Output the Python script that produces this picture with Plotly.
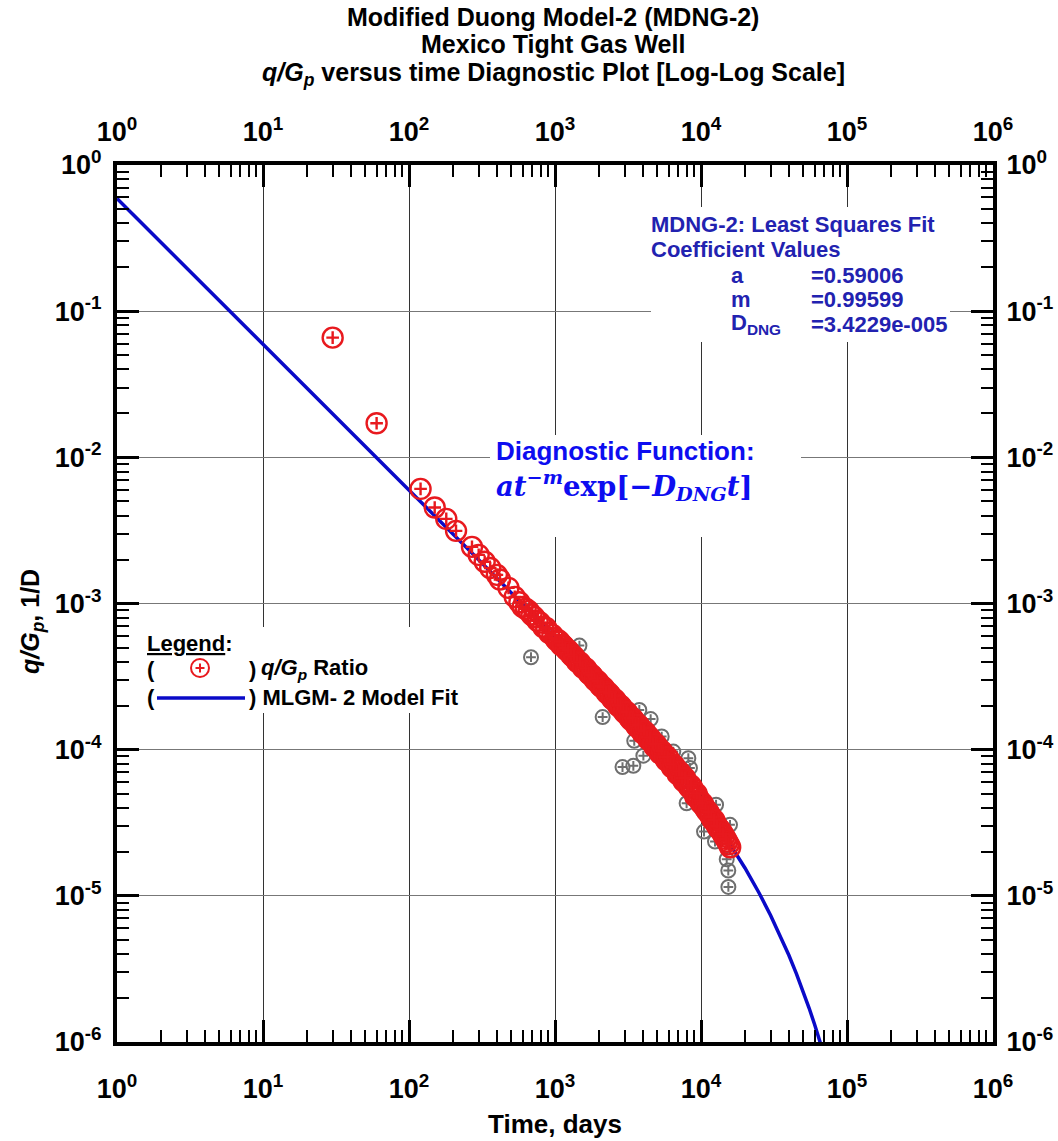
import plotly.graph_objects as go

# ---------------- data ----------------
t_red = [30, 60, 120, 150, 180, 210, 270, 300, 330, 360, 400, 420, 480, 530, 570, 600,
         630, 660, 690, 720, 760, 790, 830, 870, 910, 960,
         1000, 1050, 1100, 1150, 1200, 1260, 1320, 1380, 1450, 1510,
         1590, 1660, 1740, 1820, 1900, 2000, 2090, 2190, 2290, 2400,
         2510, 2630, 2750, 2880, 3020, 3160, 3310, 3470, 3630, 3800,
         3980, 4170, 4370, 4570, 4790, 5010, 5250, 5500, 5750, 6030,
         6310, 6610, 6920, 7240, 7590, 7940, 8320, 8710, 9120, 9550,
         10000, 10470, 10970, 11480, 12020, 12590, 13180, 13800, 14450, 15140, 15850,
         1025, 1075, 1125, 1175, 1230, 1290, 1350, 1415, 1480, 1550,
         1625, 1700, 1780, 1860, 1950, 2045, 2140, 2240, 2345, 2455,
         2570, 2690, 2815, 2950, 3090, 3235, 3390, 3550, 3715, 3890,
         4075, 4270, 4470, 4680, 4900, 5130, 5375, 5625, 5890, 6170,
         6460, 6765, 7080, 7415, 7765, 8130, 8515, 8915, 9335, 9775,
         10235, 10720, 11225, 11750, 12305, 12885, 13490, 14125, 14795, 15500]
q_red = [0.0659, 0.0171, 0.00608, 0.00454, 0.00379, 0.00314, 0.00244, 0.00215, 0.00193, 0.00175,
         0.00157, 0.00146, 0.00128, 0.00111, 0.00102, 0.000948,
         9.2e-4, 8.9e-4, 8.4e-4, 8.1e-4, 7.6e-4, 7.4e-4, 6.9e-4, 6.8e-4, 6.3e-4, 6.1e-4,
         5.8e-4, 5.6e-4, 5.2e-4, 5.1e-4, 4.8e-4, 4.65e-4, 4.35e-4, 4.2e-4, 3.95e-4, 3.83e-4,
         3.6e-4, 3.48e-4, 3.27e-4, 3.16e-4, 2.96e-4, 2.86e-4, 2.68e-4, 2.6e-4, 2.42e-4, 2.36e-4,
         2.19e-4, 2.14e-4, 1.97e-4, 1.94e-4, 1.78e-4, 1.76e-4, 1.6e-4, 1.59e-4, 1.44e-4, 1.44e-4,
         1.30e-4, 1.31e-4, 1.17e-4, 1.17e-4, 1.05e-4, 1.06e-4, 9.4e-5, 9.5e-5, 8.5e-5, 8.6e-5,
         7.6e-5, 7.7e-5, 6.8e-5, 6.9e-5, 6.1e-5, 6.1e-5, 5.5e-5, 5.5e-5, 4.8e-5, 4.7e-5,
         4.3e-5, 4.1e-5, 3.8e-5, 3.6e-5, 3.3e-5, 3.15e-5, 2.9e-5, 2.75e-5, 2.55e-5, 2.35e-5, 2.15e-5,
         5.6e-4, 5.5e-4, 5.2e-4, 4.95e-4, 4.8e-4, 4.45e-4, 4.35e-4, 4.0e-4, 3.95e-4, 3.65e-4,
         3.6e-4, 3.33e-4, 3.25e-4, 3.03e-4, 2.95e-4, 2.73e-4, 2.68e-4, 2.48e-4, 2.43e-4, 2.24e-4,
         2.21e-4, 2.02e-4, 2.0e-4, 1.83e-4, 1.81e-4, 1.65e-4, 1.64e-4, 1.49e-4, 1.48e-4, 1.35e-4,
         1.34e-4, 1.22e-4, 1.21e-4, 1.10e-4, 1.09e-4, 9.9e-5, 9.8e-5, 8.9e-5, 8.9e-5, 8.0e-5,
         7.9e-5, 7.2e-5, 7.1e-5, 6.4e-5, 6.4e-5, 5.7e-5, 5.7e-5, 5.1e-5, 5.0e-5, 4.5e-5,
         4.3e-5, 3.95e-5, 3.75e-5, 3.45e-5, 3.3e-5, 3.0e-5, 2.85e-5, 2.65e-5, 2.45e-5, 2.25e-5]

t_gray = [685, 1470, 2120, 2900, 3440, 3490, 3780, 4030, 4520, 5380, 6460, 7970, 8190, 8400,
          10490, 12470, 12680, 15000, 15380, 15400, 15800]
q_gray = [4.29e-4, 5.15e-4, 1.67e-4, 7.6e-5, 7.75e-5, 1.15e-4, 1.87e-4, 9.1e-5, 1.62e-4, 1.23e-4,
          9.7e-5, 4.3e-5, 8.75e-5, 7.5e-5, 2.75e-5, 2.35e-5, 4.2e-5, 1.78e-5, 1.49e-5, 1.15e-5, 3.06e-5]

t_fit = [1, 10, 100, 300, 1000, 2000, 4000, 5000, 7000, 10000, 12500, 15000, 20000, 25000,
         30000, 35000, 40000, 45000, 50000, 55000, 60000, 65000, 70000]
q_fit = [0.59004, 0.05953, 0.005990, 0.0019933, 5.8623e-4, 2.8437e-4, 1.3312e-4, 1.02925e-4,
         6.880e-5, 4.3477e-5, 3.1980e-5, 2.4479e-5, 1.5500e-5, 1.0460e-5, 7.3477e-6, 5.310e-6,
         3.918e-6, 2.9362e-6, 2.2281e-6, 1.7068e-6, 1.3189e-6, 1.0263e-6, 8.032e-7]

x_decades = [1, 10, 100, 1000, 10000, 100000, 1000000]
x_ticktext = ["10<sup>0</sup>", "10<sup>1</sup>", "10<sup>2</sup>", "10<sup>3</sup>",
              "10<sup>4</sup>", "10<sup>5</sup>", "10<sup>6</sup>"]
y_decades = [1e-6, 1e-5, 1e-4, 1e-3, 1e-2, 1e-1, 1]
y_ticktext = ["10<sup>-6</sup>", "10<sup>-5</sup>", "10<sup>-4</sup>", "10<sup>-3</sup>",
              "10<sup>-2</sup>", "10<sup>-1</sup>", "10<sup>0</sup>"]

coef_names = ["a", "m", "D<sub>DNG</sub>"]
coef_values = ["=0.59006", "=0.99599", "=3.4229e-005"]

# ---------------- styling ----------------
W, H = 1058, 1141
L, R, T, B = 117, 993, 165, 1042
ARIAL = "Liberation Sans, Arial, sans-serif"
SERIF = "DejaVu Serif, Liberation Serif, serif"
RED = "#e8191e"
GRAY = "#6e6e6e"
BLUE_LINE = "#0a0ac8"
BLUE_TXT = "#2222b0"
BLUE_DIAG = "#0d0df0"


def px(xp):
    return (xp - L) / (R - L)


def py(yp):
    return (B - yp) / (B - T)


def minor_vals(decs):
    out = []
    for d in decs[:-1]:
        for k in range(2, 10):
            out.append(d * k)
    return out


fig = go.Figure()

fig.add_trace(go.Scatter(x=t_fit, y=q_fit, mode="lines",
                         line=dict(color=BLUE_LINE, width=3.5), showlegend=False))
fig.add_trace(go.Scatter(x=t_gray, y=q_gray, mode="markers", showlegend=False,
                         marker=dict(symbol="circle-open", size=14, color=GRAY,
                                     line=dict(width=2, color=GRAY))))
fig.add_trace(go.Scatter(x=t_gray, y=q_gray, mode="markers", showlegend=False,
                         marker=dict(symbol="cross-thin-open", size=7, color=GRAY,
                                     line=dict(width=2, color=GRAY))))
fig.add_trace(go.Scatter(x=t_red, y=q_red, mode="markers", showlegend=False,
                         marker=dict(symbol="circle-open", size=20, color=RED,
                                     line=dict(width=2.4, color=RED))))
fig.add_trace(go.Scatter(x=t_red, y=q_red, mode="markers", showlegend=False,
                         marker=dict(symbol="cross-thin-open", size=9, color=RED,
                                     line=dict(width=2.4, color=RED))))
# invisible trace to bind the mirrored axes
fig.add_trace(go.Scatter(x=[x_decades[0]], y=[y_decades[-1]], xaxis="x2", yaxis="y2",
                         mode="markers", marker=dict(opacity=0), showlegend=False,
                         hoverinfo="skip"))

tickfont = dict(family=ARIAL, size=27, color="black", weight="bold")


def axis_common(decs, texts, rng):
    return dict(type="log", range=rng, showline=True, linewidth=4, linecolor="black",
                ticks="inside", ticklen=22, tickwidth=3, tickcolor="black",
                tickmode="array", tickvals=decs, ticktext=texts, tickfont=tickfont,
                zeroline=False, automargin=False,
                minor=dict(tickmode="array", tickvals=minor_vals(decs), ticks="inside",
                           ticklen=12, tickwidth=2, tickcolor="black", showgrid=False))


xa = axis_common(x_decades, x_ticktext, [0, 6])
ya = axis_common(y_decades, y_ticktext, [-6, 0])

fig.update_layout(
    width=W, height=H,
    margin=dict(l=L, r=W - R, t=T, b=H - B, pad=0, autoexpand=False),
    paper_bgcolor="white", plot_bgcolor="white",
    showlegend=False,
    xaxis=dict(**xa, showgrid=True, gridcolor="#333333", gridwidth=1, ticklabelstandoff=20),
    xaxis2=dict(**xa, overlaying="x", side="top", anchor="y", showgrid=False,
                ticklabelstandoff=9),
    yaxis=dict(**ya, showgrid=True, gridcolor="#777777", gridwidth=1, ticklabelstandoff=6),
    yaxis2=dict(**ya, overlaying="y", side="right", anchor="x", showgrid=False,
                ticklabelstandoff=4),
)

shapes = []
# white boxes behind text blocks
for (x0, y0, x1, y1) in [(651, 207, 950, 342), (490, 435, 801, 537), (140, 627, 470, 713)]:
    shapes.append(dict(type="rect", xref="paper", yref="paper", x0=px(x0), x1=px(x1),
                       y0=py(y1), y1=py(y0), fillcolor="white", line=dict(width=0),
                       layer="above"))
# legend symbols
cx, cy, r = 200, 668, 9
shapes.append(dict(type="circle", xref="paper", yref="paper", x0=px(cx - r), x1=px(cx + r),
                   y0=py(cy + r), y1=py(cy - r), line=dict(color=RED, width=2), layer="above"))
shapes.append(dict(type="line", xref="paper", yref="paper", x0=px(cx - 4.5), x1=px(cx + 4.5),
                   y0=py(cy), y1=py(cy), line=dict(color=RED, width=2), layer="above"))
shapes.append(dict(type="line", xref="paper", yref="paper", x0=px(cx), x1=px(cx),
                   y0=py(cy - 4.5), y1=py(cy + 4.5), line=dict(color=RED, width=2), layer="above"))
shapes.append(dict(type="line", xref="paper", yref="paper", x0=px(157), x1=px(245),
                   y0=py(698), y1=py(698), line=dict(color=BLUE_LINE, width=3.5), layer="above"))
fig.update_layout(shapes=shapes)

ann = []


def add(text, x, y, size, family=ARIAL, color="black", xanchor="left", angle=0):
    ann.append(dict(text=text, x=px(x), y=py(y), xref="paper", yref="paper", showarrow=False,
                    xanchor=xanchor, yanchor="middle", textangle=angle, borderpad=0,
                    font=dict(family=family, size=size, color=color, weight="bold")))


# titles
add("Modified Duong Model-2 (MDNG-2)", 553, 17, 25, xanchor="center")
add("Mexico Tight Gas Well", 553, 44, 25, xanchor="center")
add("<i>q/G<sub>p</sub></i> versus time Diagnostic Plot [Log-Log Scale]", 553, 74, 25,
    xanchor="center")
add("Time, days", 555, 1124, 26, xanchor="center")
add("<i>q/G<sub>p</sub></i>, 1/D", 32, 622, 25, xanchor="center", angle=-90)

# legend
add("<u>Legend</u>:", 146, 643, 22)
add("(", 146, 669, 22)
add(")", 248, 669, 22)
add("<i>q/G<sub>p</sub></i> Ratio", 260, 669, 22)
add("(", 146, 697, 22)
add(") MLGM- 2 Model Fit", 248, 697, 22)

# coefficient block
add("MDNG-2: Least Squares Fit", 650, 224, 22, color=BLUE_TXT)
add("Coefficient Values", 650, 249, 22, color=BLUE_TXT)
for i, (nm, vl) in enumerate(zip(coef_names, coef_values)):
    yy = 275 + i * 24.5
    add(nm, 730, yy, 22, color=BLUE_TXT)
    add(vl, 810, yy, 22, color=BLUE_TXT)

# diagnostic function
add("Diagnostic Function:", 495, 451, 26, color=BLUE_DIAG)
add("<i>at</i><sup><i>\u2212m</i></sup>exp[\u2212<i>D</i><sub><i>DNG</i></sub><i>t</i>]",
    495, 486, 27.5, SERIF, color=BLUE_DIAG)

fig.update_layout(annotations=ann)

fig.write_html("out.html")
